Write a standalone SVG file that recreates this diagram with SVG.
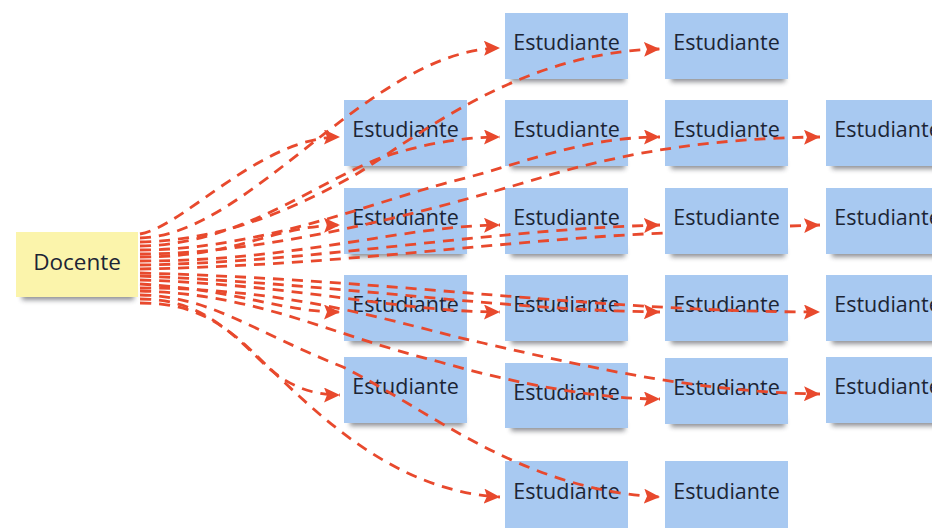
<svg xmlns="http://www.w3.org/2000/svg" width="932" height="528" viewBox="0 0 932 528">
<defs>
<filter id="blur" x="-20%" y="-100%" width="140%" height="300%"><feGaussianBlur stdDeviation="2.6"/></filter>
<marker id="ah" markerUnits="userSpaceOnUse" markerWidth="17" markerHeight="15" refX="16" refY="7.5" orient="auto">
<path d="M0,0 L16,7.5 L0,15 L3,7.5 Z" fill="#e8492d"/>
</marker>
<style>
.note{fill:#a8c9f1}
.doc{fill:#fbf4ab}
.sh{fill:#30343c;opacity:.55;filter:url(#blur)}
.t{font-family:"Open Sans","Noto Sans","DejaVu Sans",sans-serif;font-size:21.5px;fill:#1c2535;text-anchor:middle}
.d{font-size:22.5px}
.c{fill:none;stroke:#e8492d;stroke-width:2.8;stroke-dasharray:11 8}
.a{marker-end:url(#ah)}
</style>
</defs>
<rect width="932" height="528" fill="#ffffff"/>

<g id="docente">
<rect class="sh" x="22" y="290" width="112" height="10"/>
<rect class="doc" x="16" y="232" width="122" height="65"/>
<text class="t d" x="77" y="270">Docente</text>
</g>

<g id="e1b"><rect class="sh" x="350" y="159" width="114" height="10"/><rect class="note" x="344" y="100" width="123" height="66"/><text class="t" x="405.5" y="137">Estudiante</text></g>
<g id="e1c"><rect class="sh" x="350" y="247" width="114" height="10"/><rect class="note" x="344" y="188" width="123" height="66"/><text class="t" x="405.5" y="225">Estudiante</text></g>
<g id="e1d"><rect class="sh" x="350" y="334" width="114" height="10"/><rect class="note" x="344" y="275" width="123" height="66"/><text class="t" x="405.5" y="312">Estudiante</text></g>
<g id="e1e"><rect class="sh" x="350" y="416" width="114" height="10"/><rect class="note" x="344" y="357" width="123" height="66"/><text class="t" x="405.5" y="394">Estudiante</text></g>

<g id="e2a"><rect class="sh" x="511" y="72" width="114" height="10"/><rect class="note" x="505" y="13" width="123" height="66"/><text class="t" x="566.5" y="50">Estudiante</text></g>
<g id="e2b"><rect class="sh" x="511" y="159" width="114" height="10"/><rect class="note" x="505" y="100" width="123" height="66"/><text class="t" x="566.5" y="137">Estudiante</text></g>
<g id="e2c"><rect class="sh" x="511" y="247" width="114" height="10"/><rect class="note" x="505" y="188" width="123" height="66"/><text class="t" x="566.5" y="225">Estudiante</text></g>
<g id="e2d"><rect class="sh" x="511" y="334" width="114" height="10"/><rect class="note" x="505" y="275" width="123" height="66"/><text class="t" x="566.5" y="312">Estudiante</text></g>
<g id="e2e"><rect class="sh" x="511" y="421" width="114" height="10"/><rect class="note" x="505" y="363" width="123" height="65"/><text class="t" x="566.5" y="400">Estudiante</text></g>
<g id="e2f"><rect class="note" x="505" y="461" width="123" height="67"/><text class="t" x="566.5" y="499">Estudiante</text></g>

<g id="e3a"><rect class="sh" x="671" y="72" width="114" height="10"/><rect class="note" x="665" y="13" width="123" height="66"/><text class="t" x="726.5" y="50">Estudiante</text></g>
<g id="e3b"><rect class="sh" x="671" y="159" width="114" height="10"/><rect class="note" x="665" y="100" width="123" height="66"/><text class="t" x="726.5" y="137">Estudiante</text></g>
<g id="e3c"><rect class="sh" x="671" y="247" width="114" height="10"/><rect class="note" x="665" y="188" width="123" height="66"/><text class="t" x="726.5" y="225">Estudiante</text></g>
<g id="e3d"><rect class="sh" x="671" y="334" width="114" height="10"/><rect class="note" x="665" y="275" width="123" height="66"/><text class="t" x="726.5" y="312">Estudiante</text></g>
<g id="e3e"><rect class="sh" x="671" y="417" width="114" height="10"/><rect class="note" x="665" y="358" width="123" height="66"/><text class="t" x="726.5" y="395">Estudiante</text></g>
<g id="e3f"><rect class="note" x="665" y="461" width="123" height="67"/><text class="t" x="726.5" y="499">Estudiante</text></g>

<g id="e4b"><rect class="sh" x="832" y="159" width="114" height="10"/><rect class="note" x="826" y="100" width="123" height="66"/><text class="t" x="887.5" y="137">Estudiante</text></g>
<g id="e4c"><rect class="sh" x="832" y="247" width="114" height="10"/><rect class="note" x="826" y="188" width="123" height="66"/><text class="t" x="887.5" y="225">Estudiante</text></g>
<g id="e4d"><rect class="sh" x="832" y="334" width="114" height="10"/><rect class="note" x="826" y="275" width="123" height="66"/><text class="t" x="887.5" y="312">Estudiante</text></g>
<g id="e4e"><rect class="sh" x="832" y="416" width="114" height="10"/><rect class="note" x="826" y="357" width="123" height="66"/><text class="t" x="887.5" y="394">Estudiante</text></g>

<g id="connectors">
<path class="c a" d="M140,234 C185,226 260,137 340,137"/>
<path class="c a" d="M140,238 C250,236 370,50 500,48"/>
<path class="c a" d="M140,242 C230,240 300,205 355,175 C420,135 520,52 660,49"/>
<path class="c a" d="M140,246 C240,245 320,180 383,157 C420,145 460,137 500,137"/>
<path class="c a" d="M140,250 C260,250 380,200 450,182 C520,165 580,137 660,137"/>
<path class="c a" d="M140,254 C280,254 450,205 560,172 C640,150 720,138 820,137"/>
<path class="c a" d="M140,257 C240,257 270,226 340,225"/>
<path class="c a" d="M140,261 C300,261 400,226 500,225"/>
<path class="c a" d="M140,265 C320,262 480,230 660,225"/>
<path class="c" d="M140,269 C350,265 500,240 665,233"/>
<path class="c a" d="M790,226 L820,225"/>
<path class="c a" d="M140,273 C400,280 600,312 820,312"/>
<path class="c a" d="M140,276 C350,285 500,310 660,312"/>
<path class="c a" d="M140,280 C300,285 400,312 500,312"/>
<path class="c a" d="M140,284 C240,290 280,312 340,312"/>
<path class="c a" d="M140,288 C300,288 400,325 483,343 C600,370 700,392 820,394"/>
<path class="c a" d="M140,291 C260,294 330,335 440,362 C520,385 600,399 660,399"/>
<path class="c a" d="M140,295 C210,296 250,330 343,367 C430,410 520,490 660,497"/>
<path class="c a" d="M140,299 C190,299 220,320 260,360 C285,385 310,395 340,395"/>
<path class="c a" d="M140,303 C190,303 215,320 240,340 C300,395 380,490 500,497"/>
</g>
</svg>
